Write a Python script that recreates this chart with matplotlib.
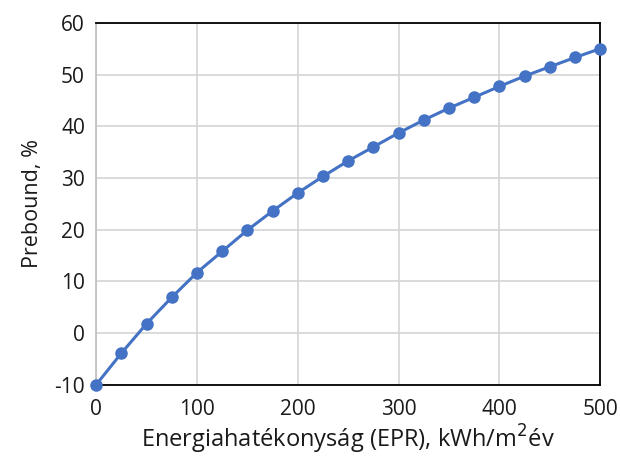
import matplotlib
matplotlib.use('agg')
import matplotlib.pyplot as plt

# energy performance (EPR), kWh/m2 year
epr = [0, 25, 50, 75, 100, 125, 150, 175, 200, 225, 250,
       275, 300, 325, 350, 375, 400, 425, 450, 475, 500]
# prebound, %
prebound = [-10.0, -3.9, 1.8, 6.9, 11.7, 15.8, 19.9, 23.6, 27.1, 30.3, 33.3,
            36.0, 38.7, 41.2, 43.5, 45.6, 47.7, 49.7, 51.5, 53.3, 55.0]

xticks = [0, 100, 200, 300, 400, 500]
yticks = [-10, 0, 10, 20, 30, 40, 50, 60]

plt.rcParams['font.family'] = ['Open Sans', 'DejaVu Sans']
plt.rcParams['axes.unicode_minus'] = False

fig = plt.figure(figsize=(6.2, 4.57), dpi=100)
ax = fig.add_axes([0.155, 0.158, 0.813, 0.792])

ax.plot(epr, prebound, '-o', color='#4472C4', linewidth=2.2, markersize=8,
        clip_on=False, zorder=3)

ax.set_xlim(0, 500)
ax.set_ylim(-10, 60)
ax.set_xticks(xticks)
ax.set_yticks(yticks)
ax.grid(True, color='#d4d4d4', linewidth=1.2)
ax.set_axisbelow(True)
ax.tick_params(length=0, labelsize=15, colors='#1a1a1a')
ax.tick_params(axis='x', pad=10)
ax.tick_params(axis='y', pad=8)

for s in ['top', 'right', 'bottom']:
    ax.spines[s].set_color('black')
    ax.spines[s].set_linewidth(1.3)
ax.spines['left'].set_color('#bfbfbf')
ax.spines['left'].set_linewidth(1.2)

ax.set_xlabel('Energiahatékonyság (EPR), kWh/m$^2$év', fontsize=17, color='#1a1a1a', labelpad=2)
ax.set_ylabel('Prebound, %', fontsize=15.5, color='#1a1a1a', labelpad=8)

fig.savefig('out.png', dpi=100)
